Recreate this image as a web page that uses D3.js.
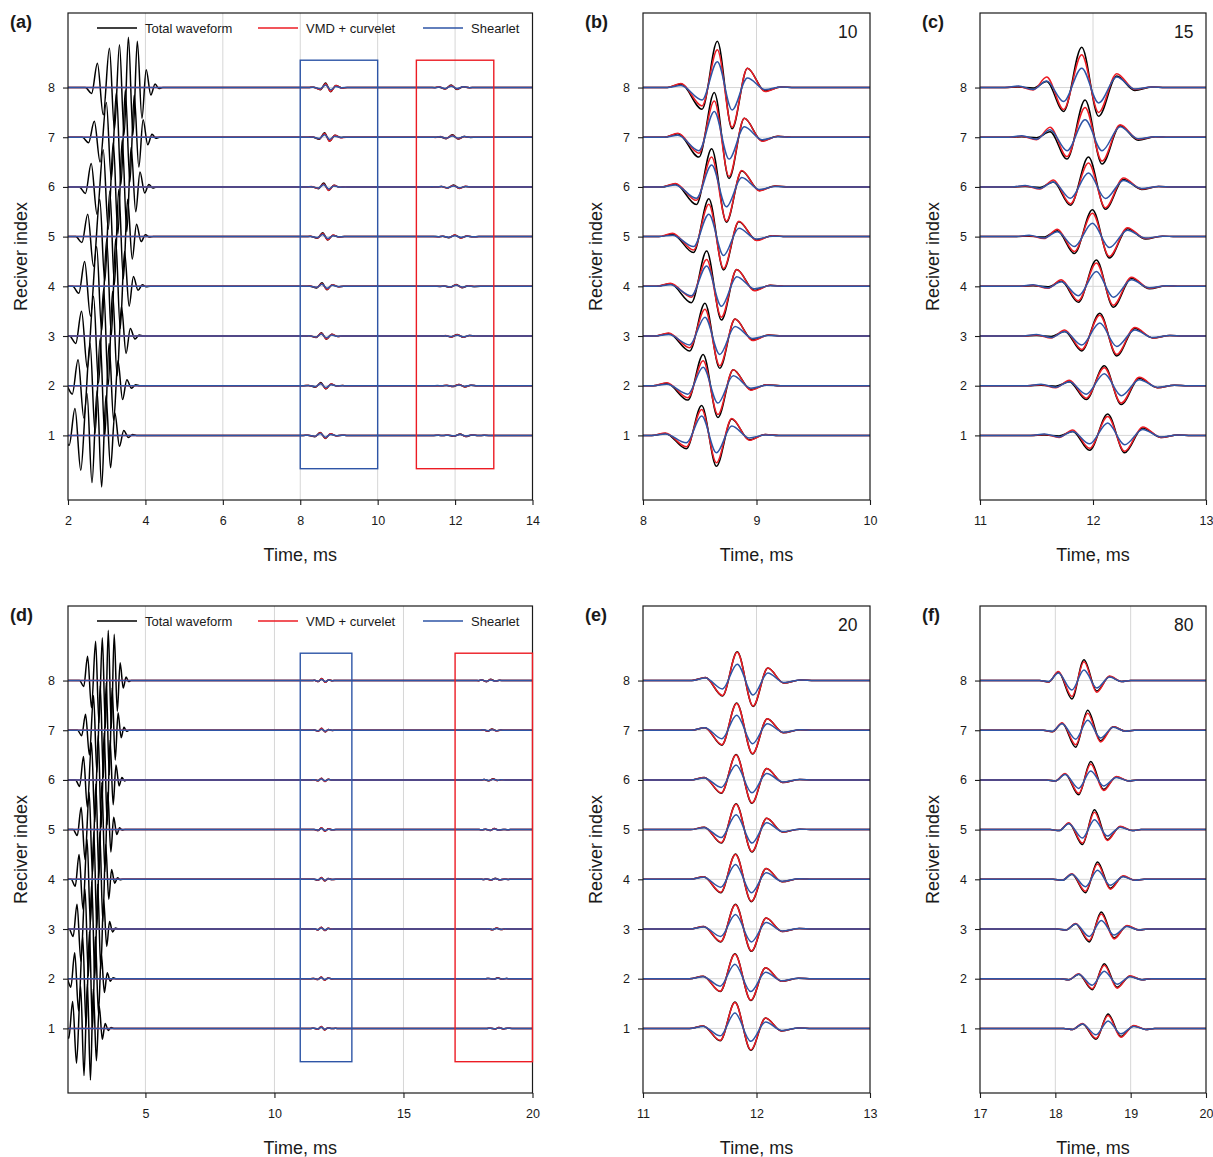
<!DOCTYPE html>
<html><head><meta charset="utf-8">
<script src="https://cdn.jsdelivr.net/npm/d3@7"></script>
<style>
body{margin:0;background:#fff;}
svg text{font-family:Arial,"Liberation Sans",sans-serif;fill:#1a1a1a;}
</style></head><body>
<svg id="chart" width="1213" height="1157"></svg>
<script>
// ---------------- DATA ----------------
const traceIndex = [1, 2, 3, 4, 5, 6, 7, 8];
const yTicks = [1, 2, 3, 4, 5, 6, 7, 8];
const seriesNames = ["Total waveform", "VMD + curvelet", "Shearlet"];
const panelLabels = ["(a)", "(b)", "(c)", "(d)", "(e)", "(f)"];
const cornerLabels = ["10", "15", "20", "80"];
const xTicksA = [2, 4, 6, 8, 10, 12, 14];
const xTicksB = [8, 9, 10];
const xTicksC = [11, 12, 13];
const xTicksD = [5, 10, 15, 20];
const xTicksE = [11, 12, 13];
const xTicksF = [17, 18, 19, 20];
const boxRangesA = [[8, 10], [11, 13]];
const boxRangesD = [[11, 13], [17, 20]];
const boxLevels = [0.33, 8.55];

// total waveform (direct arrival), onset time per trace (ms), extrema offsets (ms), amplitudes
const totalOnset = [1.87, 1.95, 2.04, 2.12, 2.20, 2.29, 2.37, 2.45];
const totalOffsets = [0.16, 0.31, 0.46, 0.62, 0.75, 0.88, 1.00, 1.11, 1.23, 1.34, 1.46, 1.57, 1.69, 1.80, 1.90];
const totalEndOffset = 2.0;
const totalAmp = [
  [-0.20, 0.54, -0.70, 0.85, -0.95, 0.90, -1.04, 0.80, -0.65, 0.45, -0.22, 0.10, -0.04, 0.02, 0.00],
  [-0.17, 0.52, -0.65, 0.85, -0.95, 0.95, -1.02, 0.85, -0.70, 0.50, -0.28, 0.12, -0.05, 0.02, 0.00],
  [-0.15, 0.50, -0.65, 0.80, -0.95, 0.95, -1.00, 0.90, -0.80, 0.60, -0.35, 0.15, -0.06, 0.02, 0.00],
  [-0.14, 0.50, -0.60, 0.80, -0.90, 0.95, -1.00, 0.95, -0.85, 0.70, -0.40, 0.20, -0.08, 0.03, -0.01],
  [-0.12, 0.45, -0.60, 0.75, -0.90, 0.92, -0.97, 0.95, -0.85, 0.75, -0.45, 0.25, -0.10, 0.04, -0.01],
  [-0.13, 0.47, -0.55, 0.75, -0.85, 0.90, -0.95, 0.95, -0.90, 0.80, -0.50, 0.30, -0.12, 0.05, -0.02],
  [-0.11, 0.32, -0.50, 0.70, -0.85, 0.90, -0.95, 0.95, -0.90, 0.85, -0.60, 0.35, -0.15, 0.06, -0.02],
  [-0.12, 0.49, -0.55, 0.79, -0.85, 0.86, -0.95, 1.01, -0.95, 0.93, -0.62, 0.36, -0.15, 0.07, -0.02]
];

// panel (b): SNR 10, window 8-10 ms
const bPeak = [8.517, 8.530, 8.546, 8.561, 8.580, 8.605, 8.628, 8.655];
const bOffsets = [-0.32, -0.135, 0, 0.13, 0.265, 0.42, 0.56];
const bBlack = [
  [0.04, -0.27, 0.60, -0.62, 0.33, -0.09, 0.02],
  [0.05, -0.29, 0.63, -0.64, 0.32, -0.08, 0.02],
  [0.05, -0.30, 0.66, -0.65, 0.34, -0.08, 0.02],
  [0.05, -0.33, 0.71, -0.68, 0.34, -0.08, 0.02],
  [0.05, -0.32, 0.76, -0.67, 0.30, -0.07, 0.02],
  [0.06, -0.355, 0.77, -0.71, 0.32, -0.07, 0.02],
  [0.07, -0.40, 0.90, -0.83, 0.38, -0.07, 0.02],
  [0.07, -0.435, 0.93, -0.83, 0.39, -0.07, 0.01]
];
const bRed = [
  [0.05, -0.23, 0.52, -0.55, 0.34, -0.10, 0.02],
  [0.06, -0.24, 0.50, -0.58, 0.32, -0.09, 0.02],
  [0.06, -0.235, 0.54, -0.60, 0.34, -0.09, 0.02],
  [0.06, -0.22, 0.54, -0.62, 0.34, -0.09, 0.02],
  [0.07, -0.27, 0.65, -0.64, 0.31, -0.08, 0.02],
  [0.07, -0.27, 0.60, -0.69, 0.33, -0.08, 0.02],
  [0.08, -0.32, 0.73, -0.79, 0.38, -0.08, 0.02],
  [0.08, -0.37, 0.76, -0.80, 0.39, -0.08, 0.01]
];
const bBlue = [
  [0.03, -0.15, 0.39, -0.35, 0.19, -0.05, 0.01],
  [0.03, -0.17, 0.37, -0.35, 0.20, -0.05, 0.01],
  [0.03, -0.18, 0.38, -0.37, 0.19, -0.05, 0.01],
  [0.03, -0.19, 0.41, -0.40, 0.19, -0.05, 0.01],
  [0.03, -0.20, 0.45, -0.38, 0.17, -0.05, 0.01],
  [0.04, -0.23, 0.44, -0.40, 0.19, -0.05, 0.01],
  [0.04, -0.27, 0.52, -0.44, 0.21, -0.05, 0.01],
  [0.04, -0.25, 0.52, -0.45, 0.19, -0.04, 0.01]
];

// panel (c): SNR 15, window 11-13 ms
const cPeak = [12.13, 12.10, 12.06, 12.03, 11.995, 11.96, 11.93, 11.90];
const cOffsets = [-0.56, -0.43, -0.31, -0.16, 0, 0.15, 0.31, 0.47, 0.62];
const cBlack = [
  [0.01, -0.01, 0.08, -0.30, 0.43, -0.35, 0.15, -0.04, 0.01],
  [0.01, -0.01, 0.08, -0.28, 0.40, -0.38, 0.15, -0.04, 0.01],
  [0.01, -0.01, 0.09, -0.30, 0.46, -0.40, 0.15, -0.04, 0.01],
  [0.01, -0.01, 0.10, -0.32, 0.53, -0.42, 0.16, -0.05, 0.01],
  [0.01, -0.01, 0.12, -0.34, 0.54, -0.43, 0.16, -0.05, 0.01],
  [0.01, -0.01, 0.10, -0.37, 0.60, -0.45, 0.15, -0.05, 0.01],
  [0.01, -0.01, 0.11, -0.44, 0.75, -0.54, 0.23, -0.06, 0.01],
  [0.01, -0.01, 0.12, -0.48, 0.81, -0.58, 0.23, -0.06, 0.01]
];
const cRed = [
  [0.02, -0.04, 0.11, -0.26, 0.38, -0.32, 0.17, -0.04, 0.01],
  [0.02, -0.04, 0.11, -0.25, 0.36, -0.35, 0.17, -0.04, 0.01],
  [0.02, -0.04, 0.12, -0.27, 0.42, -0.37, 0.17, -0.04, 0.01],
  [0.02, -0.04, 0.13, -0.29, 0.47, -0.38, 0.18, -0.04, 0.01],
  [0.02, -0.04, 0.15, -0.30, 0.47, -0.40, 0.18, -0.04, 0.01],
  [0.02, -0.04, 0.14, -0.34, 0.48, -0.42, 0.18, -0.04, 0.01],
  [0.02, -0.05, 0.20, -0.39, 0.60, -0.48, 0.25, -0.04, 0.01],
  [0.02, -0.05, 0.21, -0.44, 0.66, -0.50, 0.28, -0.04, 0.01]
];
const cBlue = [
  [0.03, -0.03, 0.08, -0.17, 0.25, -0.19, 0.12, -0.03, 0.01],
  [0.03, -0.03, 0.08, -0.17, 0.24, -0.20, 0.12, -0.03, 0.01],
  [0.03, -0.03, 0.09, -0.18, 0.26, -0.21, 0.12, -0.03, 0.01],
  [0.03, -0.03, 0.09, -0.19, 0.30, -0.22, 0.13, -0.03, 0.01],
  [0.03, -0.03, 0.10, -0.20, 0.27, -0.22, 0.13, -0.03, 0.01],
  [0.03, -0.03, 0.10, -0.23, 0.28, -0.235, 0.13, -0.03, 0.01],
  [0.03, -0.04, 0.15, -0.27, 0.35, -0.27, 0.21, -0.03, 0.01],
  [0.03, -0.04, 0.13, -0.28, 0.39, -0.31, 0.21, -0.03, 0.01]
];

// panel (e): SNR 20, window 11-13 ms
const ePeak = [11.81, 11.81, 11.815, 11.815, 11.82, 11.82, 11.825, 11.83];
const eOffsets = [-0.28, -0.13, 0, 0.14, 0.27, 0.41, 0.56];
const eBlack = [
  [0.05, -0.25, 0.53, -0.44, 0.21, -0.05, 0.01],
  [0.05, -0.26, 0.50, -0.44, 0.22, -0.05, 0.01],
  [0.05, -0.26, 0.50, -0.45, 0.22, -0.05, 0.01],
  [0.05, -0.27, 0.51, -0.45, 0.22, -0.05, 0.01],
  [0.05, -0.27, 0.52, -0.45, 0.23, -0.05, 0.01],
  [0.05, -0.27, 0.51, -0.47, 0.23, -0.05, 0.01],
  [0.05, -0.30, 0.55, -0.48, 0.23, -0.05, 0.01],
  [0.06, -0.31, 0.58, -0.52, 0.25, -0.05, 0.01]
];
const eRed = [
  [0.05, -0.24, 0.52, -0.43, 0.21, -0.05, 0.01],
  [0.05, -0.25, 0.49, -0.43, 0.22, -0.05, 0.01],
  [0.05, -0.25, 0.49, -0.44, 0.22, -0.05, 0.01],
  [0.05, -0.26, 0.50, -0.44, 0.22, -0.05, 0.01],
  [0.05, -0.26, 0.51, -0.44, 0.23, -0.05, 0.01],
  [0.05, -0.26, 0.50, -0.46, 0.23, -0.05, 0.01],
  [0.05, -0.29, 0.54, -0.47, 0.23, -0.05, 0.01],
  [0.06, -0.30, 0.57, -0.51, 0.25, -0.05, 0.01]
];
const eBlue = [
  [0.04, -0.15, 0.31, -0.26, 0.13, -0.04, 0.01],
  [0.04, -0.15, 0.29, -0.26, 0.13, -0.04, 0.01],
  [0.04, -0.15, 0.29, -0.26, 0.13, -0.04, 0.01],
  [0.04, -0.16, 0.30, -0.27, 0.13, -0.04, 0.01],
  [0.04, -0.16, 0.30, -0.27, 0.14, -0.04, 0.01],
  [0.04, -0.15, 0.30, -0.26, 0.13, -0.04, 0.01],
  [0.05, -0.17, 0.30, -0.27, 0.13, -0.04, 0.01],
  [0.05, -0.17, 0.33, -0.29, 0.15, -0.04, 0.01]
];

// panel (f): SNR 80, window 17-20 ms
const fPeak = [18.70, 18.65, 18.61, 18.56, 18.52, 18.47, 18.43, 18.38];
const fOffsets = [-0.47, -0.34, -0.16, 0, 0.17, 0.34, 0.50];
const fBlack = [
  [-0.02, 0.09, -0.22, 0.29, -0.16, 0.05, -0.02],
  [-0.02, 0.09, -0.22, 0.30, -0.17, 0.05, -0.02],
  [-0.02, 0.10, -0.26, 0.34, -0.18, 0.06, -0.02],
  [-0.02, 0.10, -0.27, 0.35, -0.18, 0.06, -0.02],
  [-0.02, 0.13, -0.30, 0.40, -0.20, 0.06, -0.02],
  [-0.02, 0.12, -0.30, 0.37, -0.19, 0.06, -0.02],
  [-0.03, 0.14, -0.34, 0.40, -0.21, 0.07, -0.02],
  [-0.03, 0.17, -0.37, 0.42, -0.21, 0.08, -0.02]
];
const fRed = [
  [-0.02, 0.10, -0.20, 0.26, -0.18, 0.06, -0.02],
  [-0.02, 0.10, -0.20, 0.27, -0.19, 0.06, -0.02],
  [-0.02, 0.11, -0.23, 0.30, -0.20, 0.07, -0.02],
  [-0.02, 0.11, -0.24, 0.31, -0.20, 0.07, -0.02],
  [-0.02, 0.14, -0.27, 0.35, -0.22, 0.07, -0.02],
  [-0.02, 0.13, -0.27, 0.32, -0.215, 0.07, -0.02],
  [-0.03, 0.15, -0.29, 0.34, -0.235, 0.07, -0.02],
  [-0.03, 0.18, -0.32, 0.38, -0.235, 0.09, -0.02]
];
const fBlue = [
  [-0.02, 0.09, -0.13, 0.15, -0.11, 0.04, -0.02],
  [-0.02, 0.09, -0.13, 0.15, -0.11, 0.04, -0.02],
  [-0.02, 0.10, -0.15, 0.17, -0.12, 0.05, -0.02],
  [-0.02, 0.10, -0.15, 0.18, -0.12, 0.05, -0.02],
  [-0.02, 0.12, -0.17, 0.20, -0.13, 0.05, -0.02],
  [-0.02, 0.11, -0.17, 0.18, -0.12, 0.05, -0.02],
  [-0.02, 0.13, -0.18, 0.20, -0.155, 0.06, -0.02],
  [-0.02, 0.15, -0.19, 0.21, -0.15, 0.07, -0.02]
];

// relative size of the reflected wavelets in the overview panels (a) and (d)
const overviewGainA = [0.10, 0.065];
const overviewGainD = [0.07, 0.06];

// ---------------- DRAWING ----------------
const COL = { black: "#000000", red: "#ec1c24", blue: "#2e55a6" };
const FONT = 'Arial, "Liberation Sans", sans-serif';
const svg = d3.select("#chart");

function wavelet(peaks, offsets, amps, i, gain) {
  const p = peaks[i];
  const pts = [[p + offsets[0] - 0.12, 0]];
  offsets.forEach((o, k) => pts.push([p + o, amps[i][k] * gain]));
  pts.push([p + offsets[offsets.length - 1] + 0.12, 0]);
  return pts;
}
function total(i) {
  const o = totalOnset[i];
  const pts = [[o, 0]];
  totalOffsets.forEach((d, k) => pts.push([o + d, totalAmp[i][k]]));
  pts.push([o + totalEndOffset, 0]);
  return pts;
}

const rowTop = [13, 606];
const rowBottom = [500, 1093];
const colX = [[68, 532.5], [643, 870], [980, 1206]];

const panels = [
  { row: 0, col: 0, label: panelLabels[0], dom: [2, 14], ticks: xTicksA, legend: true, boxes: boxRangesA,
    series: {
      black: i => [...total(i), ...wavelet(bPeak, bOffsets, bBlack, i, overviewGainA[0]), ...wavelet(cPeak, cOffsets, cBlack, i, overviewGainA[1])],
      red: i => [...wavelet(bPeak, bOffsets, bRed, i, overviewGainA[0]), ...wavelet(cPeak, cOffsets, cRed, i, overviewGainA[1])],
      blue: i => [...wavelet(bPeak, bOffsets, bBlue, i, overviewGainA[0]), ...wavelet(cPeak, cOffsets, cBlue, i, overviewGainA[1])]
    } },
  { row: 0, col: 1, label: panelLabels[1], corner: cornerLabels[0], dom: [8, 10], ticks: xTicksB,
    series: {
      black: i => wavelet(bPeak, bOffsets, bBlack, i, 1),
      red: i => wavelet(bPeak, bOffsets, bRed, i, 1),
      blue: i => wavelet(bPeak, bOffsets, bBlue, i, 1)
    } },
  { row: 0, col: 2, label: panelLabels[2], corner: cornerLabels[1], dom: [11, 13], ticks: xTicksC,
    series: {
      black: i => wavelet(cPeak, cOffsets, cBlack, i, 1),
      red: i => wavelet(cPeak, cOffsets, cRed, i, 1),
      blue: i => wavelet(cPeak, cOffsets, cBlue, i, 1)
    } },
  { row: 1, col: 0, label: panelLabels[3], dom: [2, 20], ticks: xTicksD, legend: true, boxes: boxRangesD,
    series: {
      black: i => [...total(i), ...wavelet(ePeak, eOffsets, eBlack, i, overviewGainD[0]), ...wavelet(fPeak, fOffsets, fBlack, i, overviewGainD[1])],
      red: i => [...wavelet(ePeak, eOffsets, eRed, i, overviewGainD[0]), ...wavelet(fPeak, fOffsets, fRed, i, overviewGainD[1])],
      blue: i => [...wavelet(ePeak, eOffsets, eBlue, i, overviewGainD[0]), ...wavelet(fPeak, fOffsets, fBlue, i, overviewGainD[1])]
    } },
  { row: 1, col: 1, label: panelLabels[4], corner: cornerLabels[2], dom: [11, 13], ticks: xTicksE,
    series: {
      black: i => wavelet(ePeak, eOffsets, eBlack, i, 1),
      red: i => wavelet(ePeak, eOffsets, eRed, i, 1),
      blue: i => wavelet(ePeak, eOffsets, eBlue, i, 1)
    } },
  { row: 1, col: 2, label: panelLabels[5], corner: cornerLabels[3], dom: [17, 20], ticks: xTicksF,
    series: {
      black: i => wavelet(fPeak, fOffsets, fBlack, i, 1),
      red: i => wavelet(fPeak, fOffsets, fRed, i, 1),
      blue: i => wavelet(fPeak, fOffsets, fBlue, i, 1)
    } }
];

panels.forEach((P, pi) => {
  const x0 = colX[P.col][0], x1 = colX[P.col][1];
  const top = rowTop[P.row], bottom = rowBottom[P.row];
  const x = d3.scaleLinear().domain(P.dom).range([x0, x1]);
  const y = d3.scaleLinear().domain([-0.3, 9.5]).range([bottom, top]);
  const g = svg.append("g");

  const clipId = "clip" + pi;
  svg.append("clipPath").attr("id", clipId).append("rect")
    .attr("x", x0).attr("y", top).attr("width", x1 - x0).attr("height", bottom - top);

  // grid
  const grid = g.append("g").attr("stroke", "#d6d6d6").attr("stroke-width", 1);
  P.ticks.filter(t => t > P.dom[0] && t < P.dom[1]).forEach(t => {
    grid.append("line").attr("x1", x(t)).attr("x2", x(t)).attr("y1", top).attr("y2", bottom);
  });
  yTicks.forEach(t => {
    grid.append("line").attr("x1", x0).attr("x2", x1).attr("y1", y(t)).attr("y2", y(t));
  });

  // traces
  const plot = g.append("g").attr("clip-path", `url(#${clipId})`);
  ["black", "red", "blue"].forEach(s => {
    traceIndex.forEach((tr, i) => {
      let pts = [[P.dom[0] - 0.5, 0], ...P.series[s](i), [P.dom[1] + 0.5, 0]];
      pts.sort((a, b) => a[0] - b[0]);
      const line = d3.line().x(d => x(d[0])).y(d => y(tr + d[1])).curve(d3.curveMonotoneX);
      plot.append("path").attr("d", line(pts)).attr("fill", "none")
        .attr("stroke", COL[s]).attr("stroke-width", 1.5).attr("stroke-linejoin", "round");
    });
  });

  // frame
  g.append("rect").attr("x", x0).attr("y", top).attr("width", x1 - x0).attr("height", bottom - top)
    .attr("fill", "none").attr("stroke", "#1a1a1a").attr("stroke-width", 1.2);

  // boxes
  if (P.boxes) {
    P.boxes.forEach((b, k) => {
      g.append("rect").attr("x", x(b[0])).attr("y", y(boxLevels[1]))
        .attr("width", x(b[1]) - x(b[0])).attr("height", y(boxLevels[0]) - y(boxLevels[1]))
        .attr("fill", "none").attr("stroke", k === 0 ? COL.blue : COL.red).attr("stroke-width", 1.4);
    });
  }

  // axes
  const xa = g.append("g").attr("transform", `translate(0,${bottom})`)
    .call(d3.axisBottom(x).tickValues(P.ticks).tickSize(5).tickSizeOuter(0).tickPadding(11).tickFormat(d3.format("d")));
  xa.select(".domain").remove();
  const ya = g.append("g").attr("transform", `translate(${x0},0)`)
    .call(d3.axisLeft(y).tickValues(yTicks).tickSize(5).tickSizeOuter(0).tickPadding(8).tickFormat(d3.format("d")));
  ya.select(".domain").remove();
  [xa, ya].forEach(a => {
    a.selectAll("text").attr("font-size", "12.5px").attr("font-family", FONT).attr("fill", "#1a1a1a");
    a.selectAll("line").attr("stroke", "#1a1a1a").attr("stroke-width", 1.1);
  });

  // axis titles
  g.append("text").attr("x", (x0 + x1) / 2).attr("y", bottom + 61).attr("text-anchor", "middle")
    .attr("font-size", "18px").text("Time, ms");
  g.append("text").attr("transform", `translate(${x0 - 41.5},${(top + bottom) / 2}) rotate(-90)`)
    .attr("text-anchor", "middle").attr("font-size", "18px").text("Reciver index");

  // panel label
  g.append("text").attr("x", x0 - 58).attr("y", top + 15).attr("font-size", "18px")
    .attr("font-weight", "bold").text(P.label);

  // corner label
  if (P.corner) {
    g.append("text").attr("x", x1 - 12.5).attr("y", top + 25).attr("text-anchor", "end")
      .attr("font-size", "17.5px").text(P.corner);
  }

  // legend
  if (P.legend) {
    const ly = top + 15;
    const items = [[29, 77, COL.black], [190, 238, COL.red], [355, 403, COL.blue]];
    items.forEach((it, k) => {
      g.append("line").attr("x1", x0 + it[0]).attr("x2", x0 + it[0] + 40).attr("y1", ly).attr("y2", ly)
        .attr("stroke", it[2]).attr("stroke-width", 1.4);
      g.append("text").attr("x", x0 + it[1]).attr("y", ly + 4.6).attr("font-size", "13px").text(seriesNames[k]);
    });
  }
});
</script>
</body></html>
